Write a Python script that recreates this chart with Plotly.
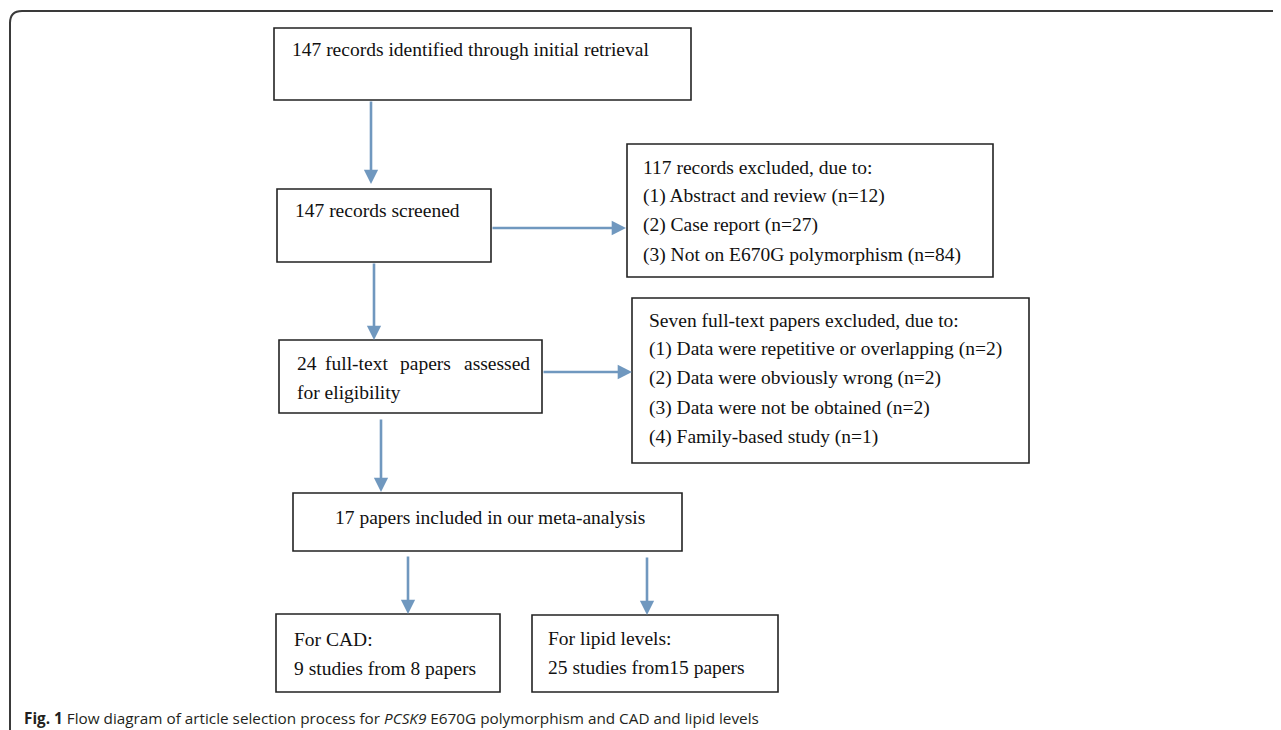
import plotly.graph_objects as go

# ---- content (text of the flow diagram) ----
box_texts = [
    ["147 records identified through initial retrieval"],
    ["147 records screened"],
    ["117 records excluded, due to:",
     "(1) Abstract and review (n=12)",
     "(2) Case report (n=27)",
     "(3) Not on E670G polymorphism (n=84)"],
    ["for eligibility"],
    ["Seven full-text papers excluded, due to:",
     "(1) Data were repetitive or overlapping (n=2)",
     "(2) Data were obviously wrong (n=2)",
     "(3) Data were not be obtained (n=2)",
     "(4) Family-based study (n=1)"],
    ["17 papers included in our meta-analysis"],
    ["For CAD:", "9 studies from 8 papers"],
    ["For lipid levels:", "25 studies from15 papers"],
]
justified_words = ["24", "full-text", "papers", "assessed"]
caption = ("<b>Fig. 1</b> Flow diagram of article selection process for "
           "<i>PCSK9</i> E670G polymorphism and CAD and lipid levels")

# ---- layout geometry (viewport pixels) ----
W, H = 1281, 730
PAGE_MARGIN = 8  # default body margin of the html page
boxes = [  # x0, y0, x1, y1
    (274, 28, 691, 100),
    (277, 189, 491, 262),
    (627, 144, 993, 277),
    (279, 340, 542, 413),
    (632, 298, 1029, 463),
    (293, 493, 682, 551),
    (276, 614, 500, 692),
    (532, 615, 778, 692),
]
text_starts = [  # x, first-line y
    (290, 49),
    (293, 210),
    (641, 167),
    (295, 392),
    (647, 320),
    (333, 517),
    (292, 639),
    (546, 638),
]
line_gap = 29.2
word_x = [295, 323, 398, 462]
word_y = 363
arrows = [  # x_tail, y_tail, x_head, y_head
    (371, 100, 371, 184),
    (491, 228, 626, 228),
    (374, 262, 374, 340),
    (542, 372, 632, 372),
    (381, 418, 381, 492),
    (408, 555, 408, 614),
    (647, 556, 647, 615),
]
arrow_color = "#7098bf"
serif = "Liberation Serif"
txt_size = 19.5

fig = go.Figure()
fig.add_trace(go.Scatter(x=[PAGE_MARGIN, W], y=[PAGE_MARGIN, H],
                         mode="markers", marker=dict(opacity=0),
                         hoverinfo="skip", showlegend=False))

shapes = []
# outer open frame with rounded top-left corner
shapes.append(dict(type="path", xref="x", yref="y",
                   path=f"M 10,{H} L 10,23 Q 10,11 22,11 L {W},11",
                   line=dict(color="#3a3a3a", width=2)))
for (x0, y0, x1, y1) in boxes:
    shapes.append(dict(type="rect", xref="x", yref="y", x0=x0, y0=y0,
                       x1=x1, y1=y1, line=dict(color="#222", width=1.6),
                       fillcolor="rgba(0,0,0,0)"))

annotations = []
for lines, (tx, ty) in zip(box_texts, text_starts):
    for i, ln in enumerate(lines):
        annotations.append(dict(x=tx, y=ty + i * line_gap, xref="x", yref="y",
                                text=ln, showarrow=False, xanchor="left",
                                yanchor="middle",
                                font=dict(family=serif, size=txt_size,
                                          color="#111")))
for w, wx in zip(justified_words, word_x):
    annotations.append(dict(x=wx, y=word_y, xref="x", yref="y", text=w,
                            showarrow=False, xanchor="left", yanchor="middle",
                            font=dict(family=serif, size=txt_size,
                                      color="#111")))
for (xt, yt, xh, yh) in arrows:
    annotations.append(dict(x=xh, y=yh, ax=xt, ay=yt, xref="x", yref="y",
                            axref="x", ayref="y", text="", showarrow=True,
                            arrowhead=2, arrowsize=1.1, arrowwidth=2.6,
                            arrowcolor=arrow_color, standoff=0,
                            startstandoff=0))
annotations.append(dict(x=22, y=718, xref="x", yref="y", text=caption,
                        showarrow=False, xanchor="left", yanchor="middle",
                        font=dict(family="Open Sans", size=15.3,
                                  color="#231f20")))

fig.update_layout(
    width=W - PAGE_MARGIN, height=H - PAGE_MARGIN,
    margin=dict(l=0, r=0, t=0, b=0),
    paper_bgcolor="white", plot_bgcolor="white",
    xaxis=dict(range=[PAGE_MARGIN, W], visible=False, fixedrange=True),
    yaxis=dict(range=[H, PAGE_MARGIN], visible=False, fixedrange=True),
    shapes=shapes, annotations=annotations, showlegend=False,
)
fig.write_html("out.html")
